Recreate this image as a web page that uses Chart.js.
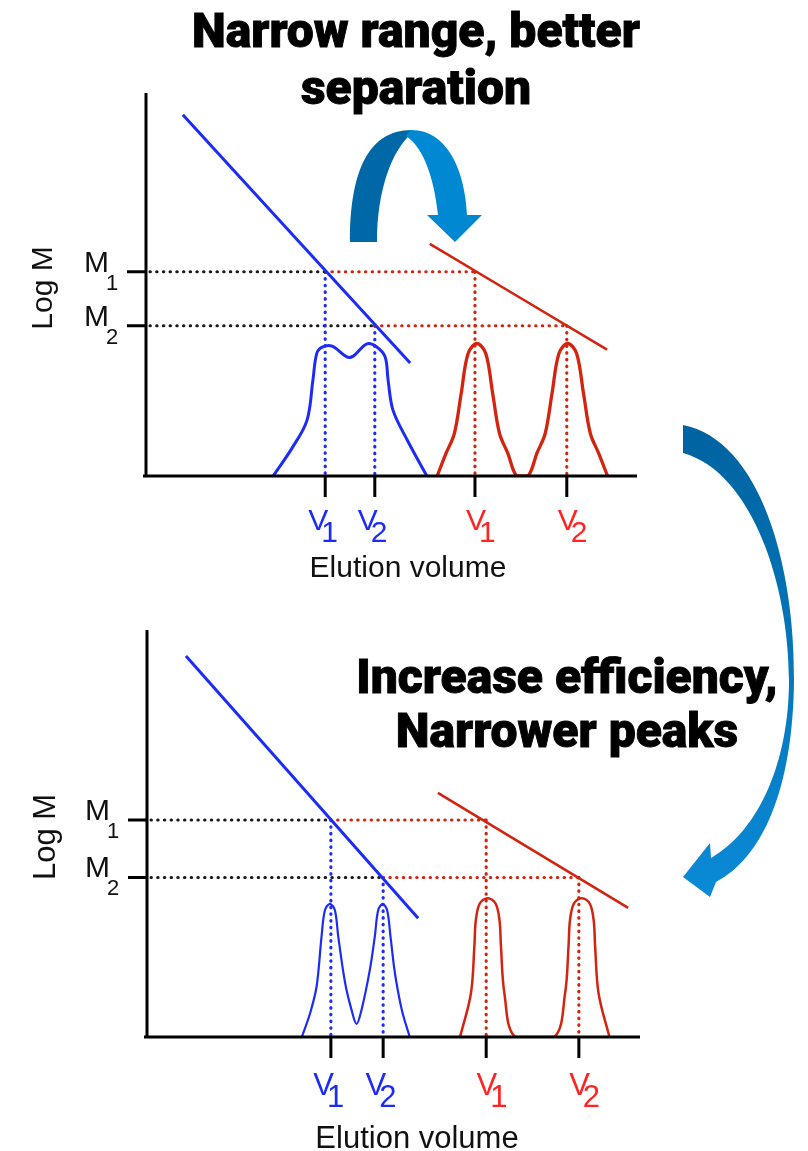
<!DOCTYPE html>
<html>
<head>
<meta charset="utf-8">
<script src="https://cdn.jsdelivr.net/npm/chart.js@4.4.1/dist/chart.umd.min.js"></script>
<style>
  body { margin: 0; background: #fff; }
  #wrap { position: relative; width: 808px; height: 1151px; overflow: hidden; }
  canvas { position: absolute; left: 0; top: 0; }
  .title {
    position: absolute; text-align: center; color: #000;
    font-family: Roboto, 'Noto Sans', sans-serif; font-weight: 900;
    font-size: 48px; letter-spacing: 0; -webkit-text-stroke: 0.9px #000;
  }
  #t1 { left: 0; width: 832px; top: 2px; line-height: 57px; }
  #t2 { left: 337px; width: 460px; top: 650px; line-height: 54px; }
</style>
</head>
<body>
<div id="wrap">
  <canvas id="chart-top" width="808" height="1151" style="width:808px;height:1151px"></canvas>
  <canvas id="chart-bot" width="808" height="1151" style="width:808px;height:1151px"></canvas>
  <div class="title" id="t1">Narrow range, better<br>separation</div>
  <div class="title" id="t2">Increase efficiency,<br>Narrower peaks</div>
</div>
<script>
// ── DATA (axis units 0..10 on both axes) ─────────────────────
const M_LEVELS   = [5.33, 3.92];
const M_SUBS     = ['1', '2'];

// top panel: narrow range column
const TOP_V_BLUE = [3.65, 4.66];
const TOP_V_RED  = [6.70, 8.57];
const TOP_BLUE_LINE_X = [0.75, 5.38];
const TOP_BLUE_LINE_Y = [9.43, 2.95];
const TOP_RED_LINE_X  = [5.78, 9.39];
const TOP_RED_LINE_Y  = [6.06, 3.30];
const TOP_BLUE_PEAK_X = [2.59, 2.99, 3.28, 3.40, 3.48, 3.60, 3.79, 4.09, 4.22, 4.50, 4.70, 4.87, 4.93, 5.03, 5.32, 5.72];
const TOP_BLUE_PEAK_Y = [0, 0.76, 1.46, 2.51, 3.21, 3.37, 3.39, 3.11, 3.13, 3.45, 3.37, 3.11, 2.51, 1.72, 0.94, 0];
const TOP_RED_PEAK_X  = [5.93, 6.11, 6.28, 6.42, 6.56, 6.74, 6.92, 7.06, 7.20, 7.37, 7.55,
                         7.78, 7.96, 8.13, 8.27, 8.41, 8.59, 8.77, 8.91, 9.05, 9.22, 9.40];
const TOP_RED_PEAK_Y  = [0, 0.59, 1.11, 2.16, 3.20, 3.46, 3.20, 2.16, 1.11, 0.59, 0,
                         0, 0.59, 1.11, 2.16, 3.20, 3.46, 3.20, 2.16, 1.11, 0.59, 0];

// bottom panel: higher efficiency
const BOT_V_BLUE = [3.73, 4.79];
const BOT_V_RED  = [6.88, 8.76];
const BOT_BLUE_LINE_X = [0.79, 5.50];
const BOT_BLUE_LINE_Y = [9.36, 2.92];
const BOT_RED_LINE_X  = [5.90, 9.76];
const BOT_RED_LINE_Y  = [6.00, 3.17];
const BOT_BLUE_PEAK_X = [3.14, 3.31, 3.44, 3.54, 3.61, 3.71, 3.81, 3.88, 4.02, 4.15, 4.25,
                         4.35, 4.52, 4.62, 4.69, 4.78, 4.87, 4.94, 5.03, 5.17, 5.33];
const BOT_BLUE_PEAK_Y = [0, 0.59, 1.24, 2.46, 3.12, 3.27, 3.12, 2.46, 1.32, 0.66, 0.32,
                         0.66, 1.65, 2.46, 3.12, 3.27, 3.12, 2.46, 1.56, 0.66, 0];
const BOT_RED_PEAK_X  = [6.35, 6.57, 6.64, 6.67, 6.75, 6.91, 7.07, 7.15, 7.18, 7.25, 7.47,
                         8.26, 8.48, 8.55, 8.58, 8.66, 8.82, 8.98, 9.06, 9.09, 9.16, 9.38];
const BOT_RED_PEAK_Y  = [0, 1.07, 2.22, 2.87, 3.28, 3.41, 3.28, 2.87, 2.22, 1.07, 0,
                         0, 1.07, 2.22, 2.87, 3.28, 3.41, 3.28, 2.87, 2.22, 1.07, 0];

const BLUE = '#1c2cf6';
const RED  = '#d2240f';
const RED_TXT = '#ff2424';
const FONT = "'Liberation Sans', Arial, sans-serif";

const pts = (xs, ys) => xs.map((x, i) => ({ x, y: ys[i] }));

// ── DATASETS ─────────────────────────────────────────────────
function buildDatasets(vBlue, vRed, lineBX, lineBY, lineRX, lineRY, pkBX, pkBY, pkRX, pkRY, pkWidth) {
  const ds = [];
  const dots = (data, color, w) => ({
    data, borderColor: color, borderWidth: w, borderDash: [0.5, 6.2],
    borderCapStyle: 'round', showLine: true, pointRadius: 0, order: 5,
  });
  M_LEVELS.forEach((m, i) => {
    ds.push(dots([{ x: 0.08, y: m }, { x: vBlue[i], y: m }], '#1a1a1a', 3));
    ds.push(dots([{ x: vBlue[i], y: m }, { x: vRed[i], y: m }], RED, 3));
    ds.push(dots([{ x: vBlue[i], y: m }, { x: vBlue[i], y: 0 }], BLUE, 3.2));
    ds.push(dots([{ x: vRed[i], y: m }, { x: vRed[i], y: 0 }], RED, 3.2));
  });
  const solid = (data, color, w) => ({
    data, borderColor: color, borderWidth: w, showLine: true, pointRadius: 0,
    tension: 0.35, order: 1,
  });
  ds.push(solid(pts(lineBX, lineBY), BLUE, 3));
  ds.push(solid(pts(lineRX, lineRY), RED, 2.6));
  ds.push(solid(pts(pkBX, pkBY), BLUE, pkWidth));
  ds.push(solid(pts(pkRX, pkRY), RED, pkWidth + 0.3));
  return ds;
}

// ── AXES, TICKS, LABELS ──────────────────────────────────────
function axesPlugin(cfg) {
  return {
    id: 'axesDeco',
    afterDatasetsDraw(chart) {
      const { ctx, chartArea: a, scales: { x, y } } = chart;
      ctx.save();
      ctx.strokeStyle = '#000';
      ctx.lineWidth = 3;
      ctx.beginPath();
      ctx.moveTo(a.left, a.top);
      ctx.lineTo(a.left, a.bottom);
      ctx.moveTo(a.left - 3, a.bottom);
      ctx.lineTo(a.right, a.bottom);
      // y ticks
      M_LEVELS.forEach(m => {
        const py = y.getPixelForValue(m);
        ctx.moveTo(a.left - 19, py);
        ctx.lineTo(a.left, py);
      });
      // x ticks
      const vt = [...cfg.vBlue.map(v => [v, BLUE, 0]), ...cfg.vRed.map(v => [v, RED_TXT, 8])];
      vt.forEach(([v]) => {
        const px = x.getPixelForValue(v);
        ctx.moveTo(px, a.bottom);
        ctx.lineTo(px, a.bottom + 21);
      });
      ctx.stroke();

      // M labels
      ctx.fillStyle = '#111';
      ctx.textBaseline = 'alphabetic';
      M_LEVELS.forEach((m, i) => {
        const py = y.getPixelForValue(m);
        ctx.font = '30px ' + FONT;
        ctx.textAlign = 'right';
        ctx.fillText('M', a.left - 37, py);
        ctx.font = '22px ' + FONT;
        ctx.textAlign = 'left';
        ctx.fillText(M_SUBS[i], a.left - 40, py + 18);
      });

      // V labels
      const counts = { [BLUE]: 0, [RED_TXT]: 0 };
      vt.forEach(([v, color, dx]) => {
        const px = x.getPixelForValue(v) + dx;
        const sub = String(++counts[color]);
        ctx.fillStyle = color;
        ctx.font = cfg.vSize + 'px ' + FONT;
        ctx.textAlign = 'right';
        ctx.fillText('V', px + 3, a.bottom + cfg.vBase);
        ctx.textAlign = 'left';
        ctx.fillText(sub, px - 4, a.bottom + cfg.vBase + 12);
      });

      // axis titles
      ctx.fillStyle = '#111';
      ctx.font = cfg.tSize + 'px ' + FONT;
      ctx.textAlign = 'center';
      ctx.fillText('Elution volume', cfg.xTitleX, a.bottom + cfg.xTitleBase);
      ctx.translate(cfg.logX, cfg.logY);
      ctx.rotate(-Math.PI / 2);
      ctx.textBaseline = 'middle';
      ctx.fillText('Log M', 0, 0);
      ctx.restore();

      if (cfg.arrows) drawArrows(ctx);
    },
  };
}

// ── CURVED ARROWS ────────────────────────────────────────────
function drawArrows(ctx) {
  ctx.save();
  // arch arrow, back face (dark)
  ctx.fillStyle = '#0068a6';
  ctx.beginPath();
  ctx.moveTo(350, 242);
  ctx.bezierCurveTo(350, 176, 366, 130, 412, 130);
  ctx.lineTo(412, 133);
  ctx.bezierCurveTo(392, 150, 377, 190, 377, 242);
  ctx.closePath();
  ctx.fill();
  // arch arrow, front face with head
  ctx.fillStyle = '#0088d3';
  ctx.beginPath();
  ctx.moveTo(410, 130);
  ctx.bezierCurveTo(447, 129, 465, 170, 467, 215);
  ctx.lineTo(482, 215);
  ctx.lineTo(455, 242);
  ctx.lineTo(427, 215);
  ctx.lineTo(438, 215);
  ctx.bezierCurveTo(434, 178, 424, 148, 406, 136);
  ctx.closePath();
  ctx.fill();

  // long side arrow
  const g = ctx.createLinearGradient(0, 425, 0, 897);
  g.addColorStop(0, '#0063a0');
  g.addColorStop(1, '#0a8ad6');
  ctx.fillStyle = g;
  ctx.beginPath();
  ctx.moveTo(683, 425);
  ctx.bezierCurveTo(760, 440, 795, 565, 794, 680);
  ctx.bezierCurveTo(793, 790, 762, 858, 716, 882);
  ctx.lineTo(710, 897);
  ctx.lineTo(683, 877);
  ctx.lineTo(710, 843);
  ctx.lineTo(711, 858);
  ctx.bezierCurveTo(760, 830, 789, 760, 789, 680);
  ctx.bezierCurveTo(789, 585, 752, 472, 683, 453);
  ctx.closePath();
  ctx.fill();
  ctx.restore();
}

// ── CHARTS ───────────────────────────────────────────────────
function makeChart(id, datasets, padding, cfg) {
  return new Chart(document.getElementById(id).getContext('2d'), {
    type: 'scatter',
    data: { datasets },
    options: {
      responsive: false, animation: false, devicePixelRatio: 1,
      layout: { padding },
      plugins: { legend: { display: false }, tooltip: { enabled: false } },
      scales: {
        x: { type: 'linear', min: 0, max: 10, display: false },
        y: { type: 'linear', min: 0, max: 10, display: false },
      },
    },
    plugins: [axesPlugin(cfg)],
  });
}

makeChart('chart-top',
  buildDatasets(TOP_V_BLUE, TOP_V_RED, TOP_BLUE_LINE_X, TOP_BLUE_LINE_Y, TOP_RED_LINE_X, TOP_RED_LINE_Y,
                TOP_BLUE_PEAK_X, TOP_BLUE_PEAK_Y, TOP_RED_PEAK_X, TOP_RED_PEAK_Y, 3),
  { left: 146, right: 171, top: 93, bottom: 675 },
  { vBlue: TOP_V_BLUE, vRed: TOP_V_RED, vSize: 30, vBase: 54, tSize: 30,
    xTitleX: 408, xTitleBase: 101, logX: 44, logY: 288, arrows: true });

makeChart('chart-bot',
  buildDatasets(BOT_V_BLUE, BOT_V_RED, BOT_BLUE_LINE_X, BOT_BLUE_LINE_Y, BOT_RED_LINE_X, BOT_RED_LINE_Y,
                BOT_BLUE_PEAK_X, BOT_BLUE_PEAK_Y, BOT_RED_PEAK_X, BOT_RED_PEAK_Y, 2.2),
  { left: 147, right: 168, top: 630, bottom: 114 },
  { vBlue: BOT_V_BLUE, vRed: BOT_V_RED, vSize: 31, vBase: 58, tSize: 31,
    xTitleX: 417, xTitleBase: 111, logX: 46, logY: 837, arrows: false });
</script>
</body>
</html>
